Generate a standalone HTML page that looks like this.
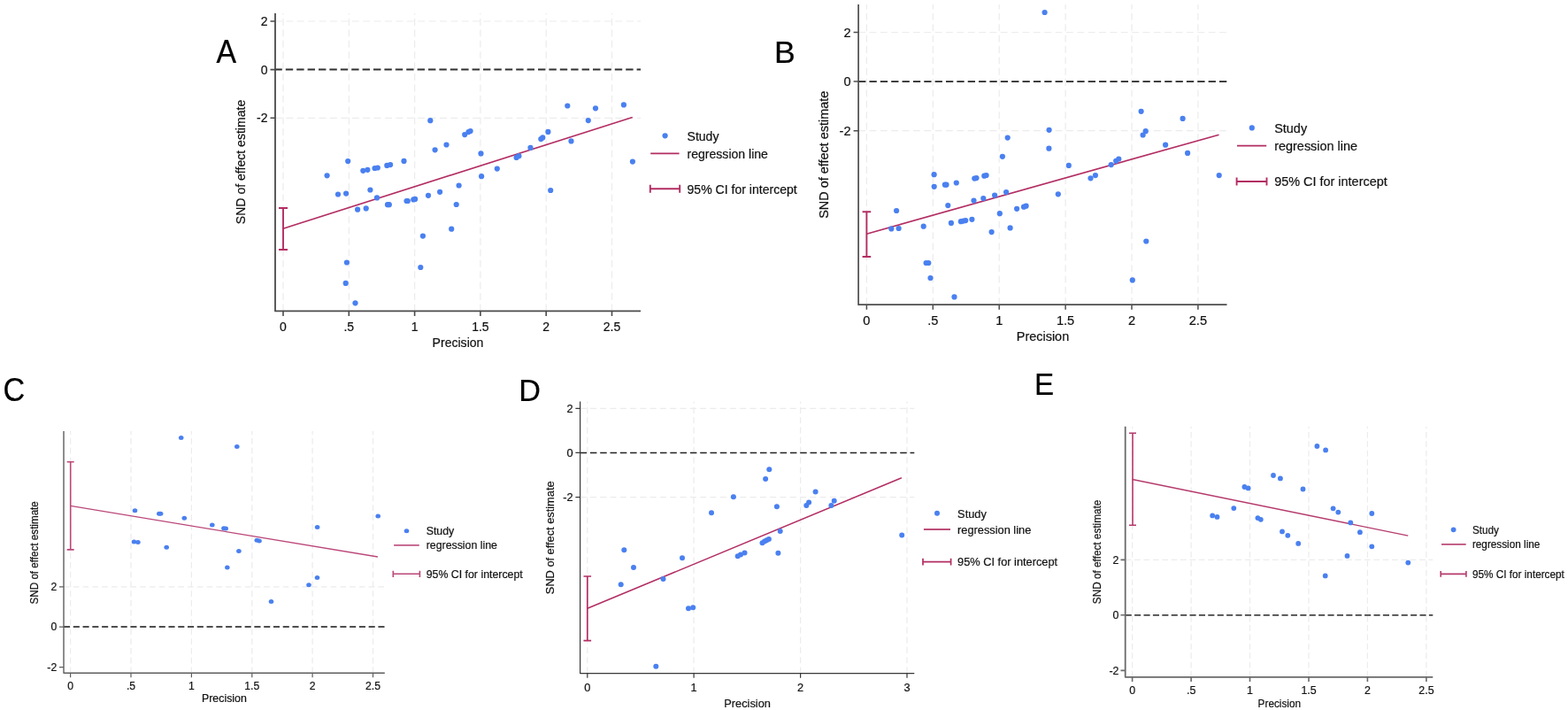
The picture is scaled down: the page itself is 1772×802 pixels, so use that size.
<!DOCTYPE html>
<html><head><meta charset="utf-8"><title>Galbraith plots</title>
<style>
html,body{margin:0;padding:0;background:#fff;}
body{width:1772px;height:802px;overflow:hidden;}
svg{display:block;}
text{font-family:"Liberation Sans", Arial, Helvetica, sans-serif;}
</style></head><body>
<svg width="1772" height="802" viewBox="0 0 1772 802">
<rect width="1772" height="802" fill="#fff"/>
<path d="M320 351.4V15M394.3 351.4V15M468.6 351.4V15M542.9 351.4V15M617.2 351.4V15M691.5 351.4V15" stroke="#ececec" stroke-width="1.2" stroke-dasharray="7.98 4.42" fill="none"/>
<path d="M311 24H724M311 133.3H724" stroke="#ececec" stroke-width="1.2" stroke-dasharray="7.98 4.42" fill="none"/>
<path d="M310.4 78.6H724" stroke="#303030" stroke-width="2" stroke-dasharray="8.4 4" fill="none"/>
<path d="M311 15V351.4H724" stroke="#4b4b4b" stroke-width="1.8" fill="none" stroke-linejoin="round"/>
<path d="M320 351.4v5.5M394.3 351.4v5.5M468.6 351.4v5.5M542.9 351.4v5.5M617.2 351.4v5.5M691.5 351.4v5.5M311 24h-5.5M311 78.6h-5.5M311 133.3h-5.5" stroke="#4b4b4b" stroke-width="1.6" fill="none"/>
<path d="M320 258.2L714.7 132.5" stroke="#b32d63" stroke-width="1.6" fill="none"/>
<path d="M320 235V282M315 235H325M315 282H325" stroke="#b32d63" stroke-width="1.9" fill="none"/>
<g fill="#4a80f0"><circle cx="369.6" cy="198.3" r="3.1"/><circle cx="382" cy="219.5" r="3.1"/><circle cx="391.1" cy="218.6" r="3.1"/><circle cx="393.2" cy="182.1" r="3.1"/><circle cx="404.1" cy="236.7" r="3.1"/><circle cx="413.7" cy="235.4" r="3.1"/><circle cx="410.3" cy="192.8" r="3.1"/><circle cx="415.4" cy="191.8" r="3.1"/><circle cx="418.4" cy="214.5" r="3.1"/><circle cx="423.5" cy="190" r="3.1"/><circle cx="426.8" cy="189.5" r="3.1"/><circle cx="426" cy="223.4" r="3.1"/><circle cx="437.3" cy="186.9" r="3.1"/><circle cx="441.1" cy="186.1" r="3.1"/><circle cx="438" cy="231.2" r="3.1"/><circle cx="439.8" cy="231.2" r="3.1"/><circle cx="456.5" cy="181.9" r="3.1"/><circle cx="459.5" cy="227" r="3.1"/><circle cx="460.8" cy="227" r="3.1"/><circle cx="467.3" cy="225.4" r="3.1"/><circle cx="469.1" cy="224.9" r="3.1"/><circle cx="486.3" cy="136.2" r="3.1"/><circle cx="491.6" cy="169.3" r="3.1"/><circle cx="504.5" cy="163.5" r="3.1"/><circle cx="484" cy="220.8" r="3.1"/><circle cx="497.1" cy="216.8" r="3.1"/><circle cx="515.7" cy="231" r="3.1"/><circle cx="518.6" cy="209.5" r="3.1"/><circle cx="510.2" cy="258.7" r="3.1"/><circle cx="477.9" cy="266.6" r="3.1"/><circle cx="475.3" cy="302" r="3.1"/><circle cx="525.2" cy="152.1" r="3.1"/><circle cx="529.5" cy="149.1" r="3.1"/><circle cx="531.6" cy="148" r="3.1"/><circle cx="543.5" cy="173.4" r="3.1"/><circle cx="544.1" cy="199.2" r="3.1"/><circle cx="561.8" cy="190.6" r="3.1"/><circle cx="583.6" cy="177.9" r="3.1"/><circle cx="586.4" cy="176.2" r="3.1"/><circle cx="599.5" cy="166.9" r="3.1"/><circle cx="611.3" cy="157.1" r="3.1"/><circle cx="613.3" cy="155.4" r="3.1"/><circle cx="619.4" cy="148.9" r="3.1"/><circle cx="622.2" cy="215" r="3.1"/><circle cx="641.3" cy="119.5" r="3.1"/><circle cx="645.5" cy="159.4" r="3.1"/><circle cx="664.8" cy="136.1" r="3.1"/><circle cx="673" cy="122.3" r="3.1"/><circle cx="704.9" cy="118.4" r="3.1"/><circle cx="714.9" cy="182.6" r="3.1"/><circle cx="391.9" cy="296.5" r="3.1"/><circle cx="390.7" cy="319.9" r="3.1"/><circle cx="401.5" cy="342.3" r="3.1"/></g>
<circle cx="751.6" cy="153.3" r="3.1" fill="#4a80f0"/>
<path d="M735.2 173.4H767.6" stroke="#b32d63" stroke-width="1.9" fill="none"/>
<path d="M734.8 213.3H768.2M734.8 208.8v9M768.2 208.8v9" stroke="#b32d63" stroke-width="1.9" fill="none"/>
<text transform="translate(776.5 158.8) scale(1 1.04)" font-size="14.07" text-anchor="start" fill="#111111" stroke="#111111" stroke-width="0.2">Study</text>
<text transform="translate(776.5 178.8) scale(1 1.04)" font-size="14.07" text-anchor="start" fill="#111111" stroke="#111111" stroke-width="0.2">regression line</text>
<text transform="translate(776.5 218.7) scale(1 1.04)" font-size="14.07" text-anchor="start" fill="#111111" stroke="#111111" stroke-width="0.2">95% CI for intercept</text>
<text transform="translate(320 373.7) scale(1 1.04)" font-size="14" text-anchor="middle" fill="#111111" stroke="#111111" stroke-width="0.2">0</text>
<text transform="translate(394.3 373.7) scale(1 1.04)" font-size="14" text-anchor="middle" fill="#111111" stroke="#111111" stroke-width="0.2">.5</text>
<text transform="translate(468.6 373.7) scale(1 1.04)" font-size="14" text-anchor="middle" fill="#111111" stroke="#111111" stroke-width="0.2">1</text>
<text transform="translate(542.9 373.7) scale(1 1.04)" font-size="14" text-anchor="middle" fill="#111111" stroke="#111111" stroke-width="0.2">1.5</text>
<text transform="translate(617.2 373.7) scale(1 1.04)" font-size="14" text-anchor="middle" fill="#111111" stroke="#111111" stroke-width="0.2">2</text>
<text transform="translate(691.5 373.7) scale(1 1.04)" font-size="14" text-anchor="middle" fill="#111111" stroke="#111111" stroke-width="0.2">2.5</text>
<text transform="translate(302.5 29.08) scale(1 1.04)" font-size="14" text-anchor="end" fill="#111111" stroke="#111111" stroke-width="0.2">2</text>
<text transform="translate(302.5 83.68) scale(1 1.04)" font-size="14" text-anchor="end" fill="#111111" stroke="#111111" stroke-width="0.2">0</text>
<text transform="translate(302.5 138.38) scale(1 1.04)" font-size="14" text-anchor="end" fill="#111111" stroke="#111111" stroke-width="0.2">-2</text>
<text transform="translate(517.5 392.1) scale(1 1.04)" font-size="14.07" text-anchor="middle" fill="#111111" stroke="#111111" stroke-width="0.2">Precision</text>
<text transform="translate(276.8 183) rotate(-90) scale(1 1.04)" font-size="14.07" text-anchor="middle" fill="#111111" stroke="#111111" stroke-width="0.2">SND of effect estimate</text>
<text transform="translate(244.4 70.7) scale(0.99 1.07)" font-size="34.2" text-anchor="start" fill="#000" stroke="#000" stroke-width="0.2">A</text>
<path d="M979.4 344.2V5M1054.3 344.2V5M1129.2 344.2V5M1204.1 344.2V5M1279 344.2V5M1353.9 344.2V5" stroke="#ececec" stroke-width="1.2" stroke-dasharray="7.89 4.47" fill="none"/>
<path d="M970.1 36.5H1386.5M970.1 147.7H1386.5" stroke="#ececec" stroke-width="1.2" stroke-dasharray="7.89 4.47" fill="none"/>
<path d="M970.1 92.1H1386.5" stroke="#262626" stroke-width="1.8" stroke-dasharray="8.3 4.06" fill="none"/>
<path d="M970.1 5V344.2H1386.5" stroke="#4d4d4d" stroke-width="1.7" fill="none" stroke-linejoin="round"/>
<path d="M979.4 344.2v5.5M1054.3 344.2v5.5M1129.2 344.2v5.5M1204.1 344.2v5.5M1279 344.2v5.5M1353.9 344.2v5.5M970.1 36.5h-5.5M970.1 92.1h-5.5M970.1 147.7h-5.5" stroke="#4d4d4d" stroke-width="1.5" fill="none"/>
<path d="M979.4 264.2L1377.5 152.2" stroke="#b32d63" stroke-width="1.6" fill="none"/>
<path d="M979.4 239.2V290M974.6 239.2H984.2M974.6 290H984.2" stroke="#b32d63" stroke-width="1.9" fill="none"/>
<g fill="#4a80f0"><circle cx="1180.6" cy="14" r="3.1"/><circle cx="1289.6" cy="125.8" r="3.1"/><circle cx="1336.6" cy="133.9" r="3.1"/><circle cx="1185.6" cy="146.8" r="3.1"/><circle cx="1294.7" cy="148.2" r="3.1"/><circle cx="1291.6" cy="152.5" r="3.1"/><circle cx="1138.7" cy="155.6" r="3.1"/><circle cx="1317.1" cy="163.7" r="3.1"/><circle cx="1185.4" cy="167.7" r="3.1"/><circle cx="1342.1" cy="172.9" r="3.1"/><circle cx="1132.9" cy="176.8" r="3.1"/><circle cx="1264.3" cy="179.5" r="3.1"/><circle cx="1261.2" cy="181.8" r="3.1"/><circle cx="1207.8" cy="186.9" r="3.1"/><circle cx="1255.7" cy="186.1" r="3.1"/><circle cx="1055.6" cy="197.2" r="3.1"/><circle cx="1237.9" cy="198.1" r="3.1"/><circle cx="1377.7" cy="198.1" r="3.1"/><circle cx="1232.5" cy="201.3" r="3.1"/><circle cx="1101.3" cy="201.6" r="3.1"/><circle cx="1103.5" cy="201.1" r="3.1"/><circle cx="1112.3" cy="198.7" r="3.1"/><circle cx="1114.6" cy="198" r="3.1"/><circle cx="1067.9" cy="208.7" r="3.1"/><circle cx="1069.5" cy="208.7" r="3.1"/><circle cx="1080.8" cy="206.5" r="3.1"/><circle cx="1055.7" cy="210.8" r="3.1"/><circle cx="1137.1" cy="217" r="3.1"/><circle cx="1195.8" cy="219.3" r="3.1"/><circle cx="1124.1" cy="220.6" r="3.1"/><circle cx="1111.3" cy="224" r="3.1"/><circle cx="1100.5" cy="226.6" r="3.1"/><circle cx="1071.3" cy="232.1" r="3.1"/><circle cx="1157" cy="233.7" r="3.1"/><circle cx="1159.6" cy="232.7" r="3.1"/><circle cx="1149.1" cy="235.8" r="3.1"/><circle cx="1013.1" cy="238" r="3.1"/><circle cx="1129.8" cy="241.2" r="3.1"/><circle cx="1098.4" cy="247.8" r="3.1"/><circle cx="1091.2" cy="249.1" r="3.1"/><circle cx="1088.6" cy="249.6" r="3.1"/><circle cx="1085.9" cy="250.2" r="3.1"/><circle cx="1074.9" cy="251.9" r="3.1"/><circle cx="1043.7" cy="255.7" r="3.1"/><circle cx="1007.3" cy="258.4" r="3.1"/><circle cx="1015.6" cy="258" r="3.1"/><circle cx="1141.6" cy="257.4" r="3.1"/><circle cx="1120.6" cy="262.1" r="3.1"/><circle cx="1295.3" cy="272.5" r="3.1"/><circle cx="1046.6" cy="297" r="3.1"/><circle cx="1049.3" cy="297" r="3.1"/><circle cx="1051.5" cy="314" r="3.1"/><circle cx="1279.8" cy="316.4" r="3.1"/><circle cx="1078.5" cy="335.4" r="3.1"/></g>
<circle cx="1414.8" cy="144.4" r="3.1" fill="#4a80f0"/>
<path d="M1398 164.6H1431.2" stroke="#b32d63" stroke-width="1.9" fill="none"/>
<path d="M1397.6 205H1431.5M1397.6 200.6v8.8M1431.5 200.6v8.8" stroke="#b32d63" stroke-width="1.9" fill="none"/>
<text transform="translate(1440.2 149.9) scale(1 1.04)" font-size="14.43" text-anchor="start" fill="#111111" stroke="#111111" stroke-width="0.2">Study</text>
<text transform="translate(1440.2 169.8) scale(1 1.04)" font-size="14.43" text-anchor="start" fill="#111111" stroke="#111111" stroke-width="0.2">regression line</text>
<text transform="translate(1440.2 210.2) scale(1 1.04)" font-size="14.43" text-anchor="start" fill="#111111" stroke="#111111" stroke-width="0.2">95% CI for intercept</text>
<text transform="translate(979.4 366.7) scale(1 1.04)" font-size="14.6" text-anchor="middle" fill="#111111" stroke="#111111" stroke-width="0.2">0</text>
<text transform="translate(1054.3 366.7) scale(1 1.04)" font-size="14.6" text-anchor="middle" fill="#111111" stroke="#111111" stroke-width="0.2">.5</text>
<text transform="translate(1129.2 366.7) scale(1 1.04)" font-size="14.6" text-anchor="middle" fill="#111111" stroke="#111111" stroke-width="0.2">1</text>
<text transform="translate(1204.1 366.7) scale(1 1.04)" font-size="14.6" text-anchor="middle" fill="#111111" stroke="#111111" stroke-width="0.2">1.5</text>
<text transform="translate(1279 366.7) scale(1 1.04)" font-size="14.6" text-anchor="middle" fill="#111111" stroke="#111111" stroke-width="0.2">2</text>
<text transform="translate(1353.9 366.7) scale(1 1.04)" font-size="14.6" text-anchor="middle" fill="#111111" stroke="#111111" stroke-width="0.2">2.5</text>
<text transform="translate(961.5 41.8) scale(1 1.04)" font-size="14.6" text-anchor="end" fill="#111111" stroke="#111111" stroke-width="0.2">2</text>
<text transform="translate(961.5 97.4) scale(1 1.04)" font-size="14.6" text-anchor="end" fill="#111111" stroke="#111111" stroke-width="0.2">0</text>
<text transform="translate(961.5 153) scale(1 1.04)" font-size="14.6" text-anchor="end" fill="#111111" stroke="#111111" stroke-width="0.2">-2</text>
<text transform="translate(1178.5 385.1) scale(1 1.04)" font-size="14.43" text-anchor="middle" fill="#111111" stroke="#111111" stroke-width="0.2">Precision</text>
<text transform="translate(936 174.8) rotate(-90) scale(1 1.04)" font-size="14.43" text-anchor="middle" fill="#111111" stroke="#111111" stroke-width="0.2">SND of effect estimate</text>
<text transform="translate(875.1 70.7) scale(1.04 1.02)" font-size="34.2" text-anchor="start" fill="#000" stroke="#000" stroke-width="0.2">B</text>
<path d="M79.6 760.2V487M148 760.2V487M216.4 760.2V487M284.8 760.2V487M353.1 760.2V487M421.5 760.2V487" stroke="#ececec" stroke-width="1.2" stroke-dasharray="6.74 4.03" fill="none"/>
<path d="M72 662.9H434.8" stroke="#ececec" stroke-width="1.2" stroke-dasharray="6.74 4.03" fill="none"/>
<path d="M72 708.1H434.8" stroke="#151515" stroke-width="1.5" stroke-dasharray="7.1 3.67" fill="none"/>
<path d="M72 487V760.2H434.8" stroke="#5e5e5e" stroke-width="1.4" fill="none" stroke-linejoin="round"/>
<path d="M79.6 760.2v5M148 760.2v5M216.4 760.2v5M284.8 760.2v5M353.1 760.2v5M421.5 760.2v5M72 662.9h-5M72 708.1h-5M72 753.7h-5" stroke="#5e5e5e" stroke-width="1.2" fill="none"/>
<path d="M79.6 571.4L426.9 629" stroke="#bb4779" stroke-width="1.3" fill="none"/>
<path d="M79.7 521.7V620.9M75.7 521.7H83.7M75.7 620.9H83.7" stroke="#bb4779" stroke-width="1.6" fill="none"/>
<g fill="#4a80f0"><ellipse cx="204.7" cy="494.4" rx="2.8" ry="2.5"/><ellipse cx="267.8" cy="504.6" rx="2.8" ry="2.5"/><ellipse cx="152.5" cy="576.7" rx="2.8" ry="2.5"/><ellipse cx="179.8" cy="580.3" rx="2.8" ry="2.5"/><ellipse cx="181.6" cy="580.3" rx="2.8" ry="2.5"/><ellipse cx="208.3" cy="585.3" rx="2.8" ry="2.5"/><ellipse cx="239.8" cy="592.9" rx="2.8" ry="2.5"/><ellipse cx="252.9" cy="596.8" rx="2.8" ry="2.5"/><ellipse cx="255.2" cy="597.1" rx="2.8" ry="2.5"/><ellipse cx="151.5" cy="612" rx="2.8" ry="2.5"/><ellipse cx="155.9" cy="612.6" rx="2.8" ry="2.5"/><ellipse cx="188.2" cy="618.3" rx="2.8" ry="2.5"/><ellipse cx="290.3" cy="610.2" rx="2.8" ry="2.5"/><ellipse cx="293" cy="611" rx="2.8" ry="2.5"/><ellipse cx="269.9" cy="622.5" rx="2.8" ry="2.5"/><ellipse cx="256.8" cy="641.1" rx="2.8" ry="2.5"/><ellipse cx="306.5" cy="679.4" rx="2.8" ry="2.5"/><ellipse cx="427.2" cy="583" rx="2.8" ry="2.5"/><ellipse cx="358.6" cy="595.6" rx="2.8" ry="2.5"/><ellipse cx="358.5" cy="652.5" rx="2.8" ry="2.5"/><ellipse cx="349" cy="660.7" rx="2.8" ry="2.5"/></g>
<ellipse cx="459.5" cy="599.7" rx="2.8" ry="2.5" fill="#4a80f0"/>
<path d="M445.1 615.9H473.8" stroke="#bb4779" stroke-width="1.6" fill="none"/>
<path d="M444.3 648.3H474.4M444.3 644.7v7.2M474.4 644.7v7.2" stroke="#bb4779" stroke-width="1.6" fill="none"/>
<text transform="translate(481.7 603.7) scale(1.06 1.04)" font-size="11.65" text-anchor="start" fill="#111111" stroke="#111111" stroke-width="0.2">Study</text>
<text transform="translate(481.7 620.2) scale(1.06 1.04)" font-size="11.65" text-anchor="start" fill="#111111" stroke="#111111" stroke-width="0.2">regression line</text>
<text transform="translate(481.7 652.5) scale(1.06 1.04)" font-size="11.65" text-anchor="start" fill="#111111" stroke="#111111" stroke-width="0.2">95% CI for intercept</text>
<text transform="translate(79.6 778.5) scale(1.06 1.04)" font-size="11.5" text-anchor="middle" fill="#111111" stroke="#111111" stroke-width="0.2">0</text>
<text transform="translate(148 778.5) scale(1.06 1.04)" font-size="11.5" text-anchor="middle" fill="#111111" stroke="#111111" stroke-width="0.2">.5</text>
<text transform="translate(216.4 778.5) scale(1.06 1.04)" font-size="11.5" text-anchor="middle" fill="#111111" stroke="#111111" stroke-width="0.2">1</text>
<text transform="translate(284.8 778.5) scale(1.06 1.04)" font-size="11.5" text-anchor="middle" fill="#111111" stroke="#111111" stroke-width="0.2">1.5</text>
<text transform="translate(353.1 778.5) scale(1.06 1.04)" font-size="11.5" text-anchor="middle" fill="#111111" stroke="#111111" stroke-width="0.2">2</text>
<text transform="translate(421.5 778.5) scale(1.06 1.04)" font-size="11.5" text-anchor="middle" fill="#111111" stroke="#111111" stroke-width="0.2">2.5</text>
<text transform="translate(64.2 667.07) scale(1.06 1.04)" font-size="11.5" text-anchor="end" fill="#111111" stroke="#111111" stroke-width="0.2">2</text>
<text transform="translate(64.2 712.27) scale(1.06 1.04)" font-size="11.5" text-anchor="end" fill="#111111" stroke="#111111" stroke-width="0.2">0</text>
<text transform="translate(64.2 757.87) scale(1.06 1.04)" font-size="11.5" text-anchor="end" fill="#111111" stroke="#111111" stroke-width="0.2">-2</text>
<text transform="translate(253.4 793.4) scale(1.06 1.04)" font-size="11.65" text-anchor="middle" fill="#111111" stroke="#111111" stroke-width="0.2">Precision</text>
<text transform="translate(42.6 624.3) rotate(-90) scale(1 1.11)" font-size="11.65" text-anchor="middle" fill="#111111" stroke="#111111" stroke-width="0.2">SND of effect estimate</text>
<text transform="translate(3.5 453.4) scale(1 1.06)" font-size="34.2" text-anchor="start" fill="#000" stroke="#000" stroke-width="0.2">C</text>
<path d="M663.8 760.6V453.5M784.1 760.6V453.5M904.6 760.6V453.5M1025 760.6V453.5" stroke="#ececec" stroke-width="1.2" stroke-dasharray="7.12 4.17" fill="none"/>
<path d="M655.6 461.4H1033.3M655.6 561.6H1033.3" stroke="#ececec" stroke-width="1.2" stroke-dasharray="7.12 4.17" fill="none"/>
<path d="M655.6 511.5H1033.3" stroke="#222222" stroke-width="1.5" stroke-dasharray="7.5 3.8" fill="none"/>
<path d="M655.6 453.5V760.6H1033.3" stroke="#383838" stroke-width="1.2" fill="none" stroke-linejoin="round"/>
<path d="M663.8 760.6v5.2M784.1 760.6v5.2M904.6 760.6v5.2M1025 760.6v5.2M655.6 461.4h-5.2M655.6 511.3h-5.2M655.6 561.6h-5.2" stroke="#383838" stroke-width="1.2" fill="none"/>
<path d="M663.8 687.2L1018.9 539.8" stroke="#b32d63" stroke-width="1.5" fill="none"/>
<path d="M663.8 651V723.7M659.5 651H668.1M659.5 723.7H668.1" stroke="#b32d63" stroke-width="1.7" fill="none"/>
<g fill="#4a80f0"><circle cx="869.3" cy="530.3" r="3"/><circle cx="865.1" cy="541.1" r="3"/><circle cx="921.6" cy="555.5" r="3"/><circle cx="828.9" cy="561.3" r="3"/><circle cx="914.1" cy="567.4" r="3"/><circle cx="911.3" cy="571" r="3"/><circle cx="942.7" cy="565.8" r="3"/><circle cx="939.4" cy="571" r="3"/><circle cx="877.9" cy="572.3" r="3"/><circle cx="804" cy="579.3" r="3"/><circle cx="881.7" cy="599.9" r="3"/><circle cx="1019.2" cy="604.4" r="3"/><circle cx="868.9" cy="609.1" r="3"/><circle cx="866.4" cy="610.2" r="3"/><circle cx="864" cy="611.6" r="3"/><circle cx="861.5" cy="613.2" r="3"/><circle cx="879.4" cy="624.8" r="3"/><circle cx="841.5" cy="624.4" r="3"/><circle cx="837" cy="626.6" r="3"/><circle cx="833.7" cy="628.2" r="3"/><circle cx="705.3" cy="621.2" r="3"/><circle cx="771" cy="630.2" r="3"/><circle cx="716" cy="641" r="3"/><circle cx="749.5" cy="654" r="3"/><circle cx="701.7" cy="660.3" r="3"/><circle cx="778" cy="687.2" r="3"/><circle cx="783.2" cy="686.3" r="3"/><circle cx="741.3" cy="752.8" r="3"/></g>
<circle cx="1059" cy="579.7" r="3" fill="#4a80f0"/>
<path d="M1043.9 598H1074" stroke="#b32d63" stroke-width="1.7" fill="none"/>
<path d="M1043 634.6H1074.6M1043 630.7v7.8M1074.6 630.7v7.8" stroke="#b32d63" stroke-width="1.7" fill="none"/>
<text transform="translate(1082.1 584.6) scale(1 1.04)" font-size="12.81" text-anchor="start" fill="#111111" stroke="#111111" stroke-width="0.2">Study</text>
<text transform="translate(1082.1 602.8) scale(1 1.04)" font-size="12.81" text-anchor="start" fill="#111111" stroke="#111111" stroke-width="0.2">regression line</text>
<text transform="translate(1082.1 639.2) scale(1 1.04)" font-size="12.81" text-anchor="start" fill="#111111" stroke="#111111" stroke-width="0.2">95% CI for intercept</text>
<text transform="translate(663.8 781.3) scale(1 1.04)" font-size="12.8" text-anchor="middle" fill="#111111" stroke="#111111" stroke-width="0.2">0</text>
<text transform="translate(784.1 781.3) scale(1 1.04)" font-size="12.8" text-anchor="middle" fill="#111111" stroke="#111111" stroke-width="0.2">1</text>
<text transform="translate(904.6 781.3) scale(1 1.04)" font-size="12.8" text-anchor="middle" fill="#111111" stroke="#111111" stroke-width="0.2">2</text>
<text transform="translate(1025 781.3) scale(1 1.04)" font-size="12.8" text-anchor="middle" fill="#111111" stroke="#111111" stroke-width="0.2">3</text>
<text transform="translate(647.6 466.05) scale(1 1.04)" font-size="12.8" text-anchor="end" fill="#111111" stroke="#111111" stroke-width="0.2">2</text>
<text transform="translate(647.6 515.95) scale(1 1.04)" font-size="12.8" text-anchor="end" fill="#111111" stroke="#111111" stroke-width="0.2">0</text>
<text transform="translate(647.6 566.25) scale(1 1.04)" font-size="12.8" text-anchor="end" fill="#111111" stroke="#111111" stroke-width="0.2">-2</text>
<text transform="translate(844.6 798.7) scale(1 1.04)" font-size="12.81" text-anchor="middle" fill="#111111" stroke="#111111" stroke-width="0.2">Precision</text>
<text transform="translate(626 607.3) rotate(-90) scale(1 1.04)" font-size="12.81" text-anchor="middle" fill="#111111" stroke="#111111" stroke-width="0.2">SND of effect estimate</text>
<text transform="translate(586.3 453) scale(1 1.05)" font-size="34.2" text-anchor="start" fill="#000" stroke="#000" stroke-width="0.2">D</text>
<path d="M1279.6 764.8V481.8M1346.1 764.8V481.8M1412.5 764.8V481.8M1479 764.8V481.8M1545.4 764.8V481.8M1611.9 764.8V481.8" stroke="#ececec" stroke-width="1.2" stroke-dasharray="6.74 3.65" fill="none"/>
<path d="M1271.7 632.4H1619.3" stroke="#ececec" stroke-width="1.2" stroke-dasharray="6.74 3.65" fill="none"/>
<path d="M1271.7 694.8H1619.3" stroke="#454545" stroke-width="1.8" stroke-dasharray="7.1 3.3" fill="none"/>
<path d="M1271.7 481.8V764.8H1619.3" stroke="#6a6a6a" stroke-width="1.8" fill="none" stroke-linejoin="round"/>
<path d="M1279.6 764.8v5.2M1346.1 764.8v5.2M1412.5 764.8v5.2M1479 764.8v5.2M1545.4 764.8v5.2M1611.9 764.8v5.2M1271.7 632.4h-5.2M1271.7 694.8h-5.2M1271.7 757.4h-5.2" stroke="#6a6a6a" stroke-width="1.6" fill="none"/>
<path d="M1279.6 541.5L1591.3 605.1" stroke="#b53a6c" stroke-width="1.4" fill="none"/>
<path d="M1280 489.2V593.3M1276 489.2H1284M1276 593.3H1284" stroke="#b53a6c" stroke-width="1.6" fill="none"/>
<g fill="#4a80f0"><circle cx="1488.4" cy="504" r="2.9"/><circle cx="1498.1" cy="508.4" r="2.9"/><circle cx="1439" cy="537" r="2.9"/><circle cx="1446.9" cy="540.4" r="2.9"/><circle cx="1406.4" cy="550" r="2.9"/><circle cx="1410.6" cy="551.4" r="2.9"/><circle cx="1472.5" cy="552.5" r="2.9"/><circle cx="1394.3" cy="574.1" r="2.9"/><circle cx="1506.6" cy="574.3" r="2.9"/><circle cx="1512.3" cy="578.6" r="2.9"/><circle cx="1550.3" cy="580" r="2.9"/><circle cx="1370.2" cy="582.4" r="2.9"/><circle cx="1375.5" cy="583.9" r="2.9"/><circle cx="1421.4" cy="585.1" r="2.9"/><circle cx="1424.8" cy="586.8" r="2.9"/><circle cx="1526.3" cy="590.4" r="2.9"/><circle cx="1536.9" cy="601.2" r="2.9"/><circle cx="1449" cy="600.4" r="2.9"/><circle cx="1455.3" cy="604.8" r="2.9"/><circle cx="1467.2" cy="613.9" r="2.9"/><circle cx="1550.3" cy="617.3" r="2.9"/><circle cx="1522.5" cy="627.9" r="2.9"/><circle cx="1497.7" cy="650.4" r="2.9"/><circle cx="1591.3" cy="635.6" r="2.9"/></g>
<circle cx="1642.6" cy="598.3" r="2.9" fill="#4a80f0"/>
<path d="M1629 614.9H1656.7" stroke="#b53a6c" stroke-width="1.6" fill="none"/>
<path d="M1628.2 648.4H1656.9M1628.2 645v6.8M1656.9 645v6.8" stroke="#b53a6c" stroke-width="1.6" fill="none"/>
<text transform="translate(1663.9 602.5) scale(1 1.04)" font-size="11.78" text-anchor="start" fill="#111111" stroke="#111111" stroke-width="0.2">Study</text>
<text transform="translate(1663.9 619.2) scale(1 1.04)" font-size="11.78" text-anchor="start" fill="#111111" stroke="#111111" stroke-width="0.2">regression line</text>
<text transform="translate(1663.9 652.7) scale(1 1.04)" font-size="11.78" text-anchor="start" fill="#111111" stroke="#111111" stroke-width="0.2">95% CI for intercept</text>
<text transform="translate(1279.6 783.6) scale(1 1.04)" font-size="12.4" text-anchor="middle" fill="#111111" stroke="#111111" stroke-width="0.2">0</text>
<text transform="translate(1346.1 783.6) scale(1 1.04)" font-size="12.4" text-anchor="middle" fill="#111111" stroke="#111111" stroke-width="0.2">.5</text>
<text transform="translate(1412.5 783.6) scale(1 1.04)" font-size="12.4" text-anchor="middle" fill="#111111" stroke="#111111" stroke-width="0.2">1</text>
<text transform="translate(1479 783.6) scale(1 1.04)" font-size="12.4" text-anchor="middle" fill="#111111" stroke="#111111" stroke-width="0.2">1.5</text>
<text transform="translate(1545.4 783.6) scale(1 1.04)" font-size="12.4" text-anchor="middle" fill="#111111" stroke="#111111" stroke-width="0.2">2</text>
<text transform="translate(1611.9 783.6) scale(1 1.04)" font-size="12.4" text-anchor="middle" fill="#111111" stroke="#111111" stroke-width="0.2">2.5</text>
<text transform="translate(1264.5 636.9) scale(1 1.04)" font-size="12.4" text-anchor="end" fill="#111111" stroke="#111111" stroke-width="0.2">2</text>
<text transform="translate(1264.5 699.3) scale(1 1.04)" font-size="12.4" text-anchor="end" fill="#111111" stroke="#111111" stroke-width="0.2">0</text>
<text transform="translate(1264.5 761.9) scale(1 1.04)" font-size="12.4" text-anchor="end" fill="#111111" stroke="#111111" stroke-width="0.2">-2</text>
<text transform="translate(1445.8 798.7) scale(1 1.04)" font-size="11.78" text-anchor="middle" fill="#111111" stroke="#111111" stroke-width="0.2">Precision</text>
<text transform="translate(1244 623.4) rotate(-90) scale(1 1.04)" font-size="11.78" text-anchor="middle" fill="#111111" stroke="#111111" stroke-width="0.2">SND of effect estimate</text>
<text transform="translate(1169 445.7) scale(0.97 1.04)" font-size="34.2" text-anchor="start" fill="#000" stroke="#000" stroke-width="0.2">E</text>
</svg>
</body></html>
